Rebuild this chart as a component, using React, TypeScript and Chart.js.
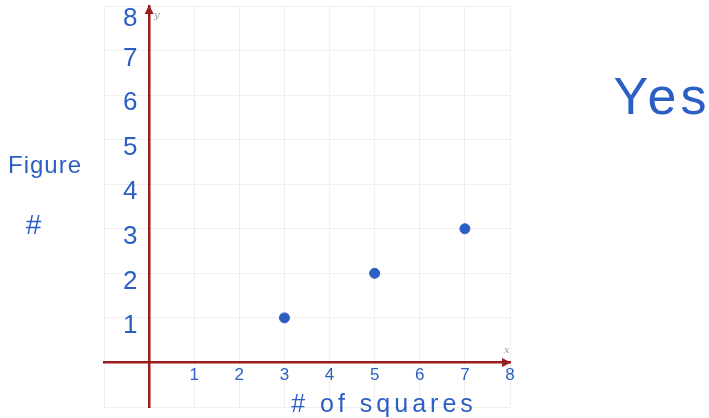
import React, { useEffect, useRef } from "react";
import { Chart, registerables } from "chart.js";

Chart.register(...registerables);

const squares = [3, 5, 7];
const figureNums = [1, 2, 3];
const xTickValues = [1, 2, 3, 4, 5, 6, 7, 8];
const yTickValues = [1, 2, 3, 4, 5, 6, 7, 8];
const xTitle = "# of squares";
const yTitleLines = ["Figure", "#"];
const note = "Yes";

const INK = "#2c5fc3";
const AXIS = "#9b1c1c";
const HAND = "'Liberation Sans Narrow', 'Liberation Sans', sans-serif";

const overlay = {
  id: "overlay",
  afterDraw(chart: any) {
    const { ctx } = chart;
    const xs = chart.scales.x;
    const ys = chart.scales.y;
    const x0 = xs.getPixelForValue(0);
    const y0 = ys.getPixelForValue(0);
    const xEnd = xs.getPixelForValue(8);
    const yTop = ys.getPixelForValue(8);
    ctx.save();
    // arrows
    ctx.fillStyle = AXIS;
    ctx.beginPath();
    ctx.moveTo(xEnd + 1, y0);
    ctx.lineTo(xEnd - 8, y0 - 4.5);
    ctx.lineTo(xEnd - 8, y0 + 4.5);
    ctx.closePath();
    ctx.fill();
    ctx.beginPath();
    ctx.moveTo(x0, yTop - 1);
    ctx.lineTo(x0 - 4.5, yTop + 8);
    ctx.lineTo(x0 + 4.5, yTop + 8);
    ctx.closePath();
    ctx.fill();
    // small axis letters
    ctx.fillStyle = "#999";
    ctx.font = "italic 10px 'DejaVu Serif'";
    ctx.textAlign = "left";
    ctx.textBaseline = "middle";
    ctx.fillText("y", x0 + 5, yTop + 9);
    ctx.fillText("x", xEnd - 6, y0 - 12);
    // tick labels
    ctx.fillStyle = INK;
    ctx.textAlign = "center";
    ctx.font = `17px ${HAND}`;
    xTickValues.forEach((v) => {
      ctx.fillText(String(v), xs.getPixelForValue(v), y0 + 13);
    });
    ctx.font = `26px ${HAND}`;
    yTickValues.forEach((v) => {
      const off = v === 8 ? 13 : 8;
      ctx.fillText(String(v), x0 - 19, ys.getPixelForValue(v) + off);
    });
    // titles
    ctx.font = `25px ${HAND}`;
    (ctx as any).letterSpacing = "4px";
    ctx.fillText(xTitle, 384, ys.getPixelForValue(-0.95));
    (ctx as any).letterSpacing = "1px";
    ctx.font = `24px ${HAND}`;
    ctx.fillText(yTitleLines[0], 45, 166);
    ctx.font = `28px ${HAND}`;
    ctx.fillText(yTitleLines[1], 34, 226);
    (ctx as any).letterSpacing = "4px";
    ctx.font = `52px ${HAND}`;
    ctx.fillText(note, 662, 100);
    ctx.restore();
  },
};

export default function App() {
  const ref = useRef<HTMLCanvasElement>(null);
  useEffect(() => {
    if (!ref.current) return;
    const chart = new Chart(ref.current, {
      type: "scatter",
      data: {
        datasets: [
          {
            data: squares.map((s, i) => ({ x: s, y: figureNums[i] })),
            backgroundColor: INK,
            borderColor: INK,
            pointRadius: 5,
          },
        ],
      },
      options: {
        animation: false,
        responsive: true,
        maintainAspectRatio: false,
        layout: { padding: { left: 104, top: 3, right: 199, bottom: 11 } },
        plugins: { legend: { display: false }, tooltip: { enabled: false } },
        scales: {
          x: {
            type: "linear",
            position: { y: 0 } as any,
            min: -1,
            max: 8,
            grid: { color: "#efefef", drawTicks: false, lineWidth: 1 },
            border: { color: AXIS, width: 2.5 },
            ticks: { stepSize: 1, display: false },
          },
          y: {
            type: "linear",
            position: { x: 0 } as any,
            min: -1,
            max: 8,
            grid: { color: "#efefef", drawTicks: false, lineWidth: 1 },
            border: { color: AXIS, width: 2.5 },
            ticks: { stepSize: 1, display: false },
          },
        },
      },
      plugins: [overlay],
    });
    return () => chart.destroy();
  }, []);
  return (
    <div style={{ position: "absolute", left: 0, top: 0, width: 709, height: 418 }}>
      <canvas ref={ref} />
    </div>
  );
}
